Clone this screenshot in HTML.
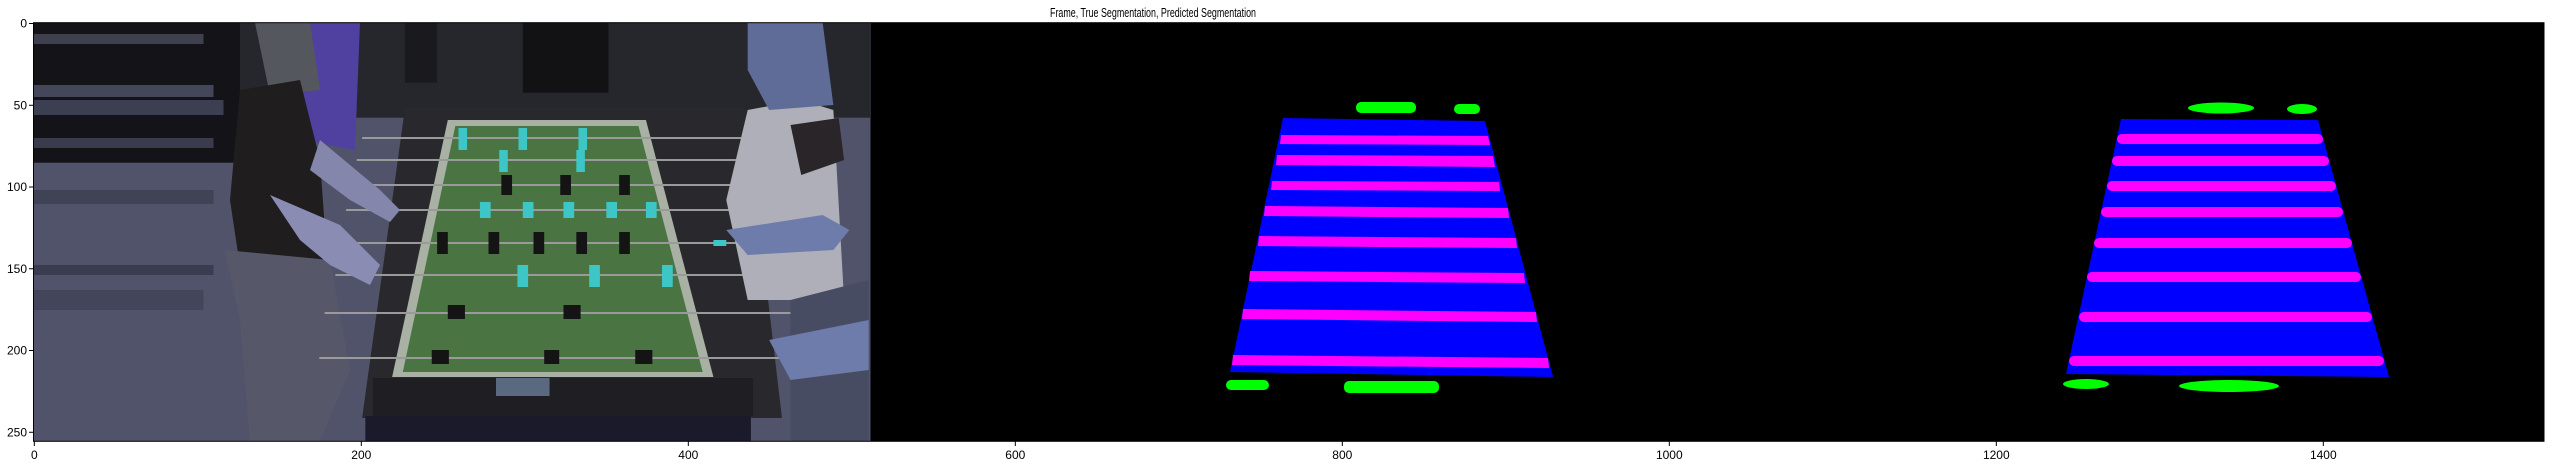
<!DOCTYPE html>
<html><head><meta charset="utf-8"><style>
html,body{margin:0;padding:0;background:#fff;}
svg{display:block;font-family:"Liberation Sans","DejaVu Sans",sans-serif;}
</style></head><body>
<svg id="fig" width="2554" height="465" viewBox="0 0 2554 465" xmlns="http://www.w3.org/2000/svg">
<text x="1050" y="17" font-size="13" textLength="206" lengthAdjust="spacingAndGlyphs" fill="#000">Frame, True Segmentation, Predicted Segmentation</text>
<g id="plot">
  <rect x="33.5" y="22.7" width="2510.5" height="418.6" fill="#000"/>
  <g>
    <rect x="33.5" y="22.7" width="837" height="418.6" fill="#50536a"/>
    <rect x="33.5" y="22.7" width="220" height="140" fill="#141418"/>
    <rect x="33.5" y="34" width="170" height="10" fill="#3e404e"/>
    <rect x="33.5" y="85" width="180" height="12" fill="#44465a"/>
    <rect x="33.5" y="100" width="190" height="15" fill="#3c3e52"/>
    <rect x="33.5" y="138" width="180" height="10" fill="#3a3c4e"/>
    <rect x="33.5" y="190" width="180" height="14" fill="#404256"/>
    <rect x="33.5" y="265" width="180" height="10" fill="#3a3c50"/>
    <rect x="33.5" y="290" width="170" height="20" fill="#43455a"/>
    <rect x="240" y="22.7" width="630" height="95" fill="#26272c"/>
    <g transform="translate(330,0) scale(1.071,1) translate(-330,0)">
      <rect x="400" y="22.7" width="30" height="60" fill="#1a1a1e"/>
      <rect x="510" y="22.7" width="80" height="70" fill="#121214"/>
    </g>
    <polygon points="300,22.7 360,22.7 355,150 305,140" fill="#5040a0"/>
    <polygon points="255,22.7 310,22.7 320,90 270,95" fill="#55575f"/>
    <polygon points="240,90 300,80 320,160 330,300 245,300 230,200" fill="#1f1d1e"/>
    <polygon points="225,250 330,260 350,370 320,441 250,441 240,320" fill="#56586a"/>
    <g transform="translate(330,0) scale(1.071,1) translate(-330,0)">
    <polygon points="400,108 718,108 752,418 360,418" fill="#29292d"/>
    <polygon points="440,120 625,120 688,377 388,377" fill="#a9b0a4"/>
    <polygon points="447,126 618,126 678,372 398,372" fill="#4a7542"/>
    <rect x="370" y="378" width="355" height="38" fill="#1f1f23"/>
    <rect x="485" y="378" width="50" height="18" fill="#5a6880"/>
    <rect x="363" y="416" width="360" height="25" fill="#1a1a2a"/>
    <g stroke="#9a9a9a" stroke-width="2">
      <line x1="360" y1="138" x2="720" y2="138"/><line x1="355" y1="160" x2="720" y2="160"/>
      <line x1="350" y1="185" x2="730" y2="185"/><line x1="345" y1="210" x2="735" y2="210"/>
      <line x1="340" y1="243" x2="740" y2="243"/><line x1="335" y1="275" x2="745" y2="275"/>
      <line x1="325" y1="313" x2="760" y2="313"/><line x1="320" y1="358" x2="770" y2="358"/>
    </g>
    <g fill="#3ec6c6">
      <rect x="450" y="128" width="8" height="22"/><rect x="506" y="128" width="8" height="22"/><rect x="562" y="128" width="8" height="22"/>
      <rect x="488" y="150" width="8" height="22"/><rect x="560" y="150" width="8" height="22"/>
      <rect x="470" y="202" width="10" height="16"/><rect x="510" y="202" width="10" height="16"/><rect x="548" y="202" width="10" height="16"/><rect x="588" y="202" width="10" height="16"/><rect x="625" y="202" width="10" height="16"/>
      <rect x="505" y="265" width="10" height="22"/><rect x="572" y="265" width="10" height="22"/><rect x="640" y="265" width="10" height="22"/>
      <rect x="688" y="240" width="12" height="6"/>
    </g>
    <g fill="#141414">
      <rect x="490" y="175" width="10" height="20"/><rect x="545" y="175" width="10" height="20"/><rect x="600" y="175" width="10" height="20"/>
      <rect x="430" y="232" width="10" height="22"/><rect x="478" y="232" width="10" height="22"/><rect x="520" y="232" width="10" height="22"/><rect x="560" y="232" width="10" height="22"/><rect x="600" y="232" width="10" height="22"/>
      <rect x="440" y="305" width="16" height="14"/><rect x="548" y="305" width="16" height="14"/>
      <rect x="425" y="350" width="16" height="14"/><rect x="530" y="350" width="14" height="14"/><rect x="615" y="350" width="16" height="14"/>
    </g>
    <polygon points="720,110 770,100 800,110 810,300 720,300 700,200" fill="#aeafb8"/>
    <polygon points="760,125 805,118 810,160 770,175" fill="#2a2528"/>
    <polygon points="720,22.7 790,22.7 800,105 740,110 720,70" fill="#5f6c98"/>
    <polygon points="700,230 790,215 815,230 800,250 720,255" fill="#6e7cac"/>
    <polygon points="760,300 833,280 833,441 760,441" fill="#484c62"/>
    <polygon points="740,340 833,320 833,370 760,380" fill="#6e7cac"/>
    </g>
    <polygon points="270,195 340,225 380,265 370,285 330,265 300,240" fill="#8a8cb4"/>
    <polygon points="320,140 380,190 400,210 390,222 350,200 310,170" fill="#8486ac"/>
  </g>
  <g>
    <polygon points="1283,118 1485,121 1553,377 1230,372" fill="#0000ff"/>
    <g fill="#ff00ff">
      <polygon points="1281,135 1488,136 1490,145 1280,144"/>
      <polygon points="1277,155 1493,156 1495,167 1276,165"/>
      <polygon points="1272,181 1499,182 1500,191 1271,190"/>
      <polygon points="1265,206 1508,208 1509,218 1264,216"/>
      <polygon points="1259,236 1516,238 1517,248 1258,246"/>
      <polygon points="1250,271 1524,273 1525,283 1249,281"/>
      <polygon points="1243,309 1536,312 1537,322 1242,319"/>
      <polygon points="1233,355 1548,358 1549,368 1232,365"/>
    </g>
    <g fill="#00ff00">
      <rect x="1356" y="102" width="60" height="11" rx="5"/><rect x="1454" y="104" width="26" height="10" rx="5"/>
      <rect x="1226" y="380" width="43" height="10" rx="5"/><rect x="1344" y="381" width="95" height="12" rx="5"/>
    </g>
  </g>
  <g>
    <polygon points="2121,119 2318,120 2389,377 2066,374" fill="#0000ff"/>
    <g fill="#ff00ff">
      <rect x="2117" y="134" width="206" height="10" rx="5"/>
      <rect x="2112" y="156" width="217" height="10" rx="5"/>
      <rect x="2107" y="181" width="229" height="10" rx="5"/>
      <rect x="2101" y="207" width="242" height="10" rx="5"/>
      <rect x="2094" y="238" width="258" height="10" rx="5"/>
      <rect x="2087" y="272" width="274" height="10" rx="5"/>
      <rect x="2079" y="312" width="293" height="10" rx="5"/>
      <rect x="2069" y="356" width="315" height="10" rx="5"/>
    </g>
    <g fill="#00ff00">
      <ellipse cx="2221" cy="108" rx="33" ry="5.5"/><ellipse cx="2302" cy="109" rx="15" ry="5"/>
      <ellipse cx="2086" cy="384" rx="23" ry="5"/><ellipse cx="2229" cy="386" rx="50" ry="6"/>
    </g>
  </g>
  <rect x="33.5" y="22.7" width="2510.5" height="418.6" fill="none" stroke="#000" stroke-width="1"/>
</g>
<g id="xaxis"></g>
<g id="yaxis"></g>
</svg>
<script>
const xTicks = [0, 200, 400, 600, 800, 1000, 1200, 1400];
const yTicks = [0, 50, 100, 150, 200, 250];
const scale = 1.635;
const x0 = 33.5, y0 = 22.7;
function xPos(v){ return x0 + (v + 0.5) * scale; }
function yPos(v){ return y0 + (v + 0.5) * scale; }
const NS = 'http://www.w3.org/2000/svg';
const xa = document.getElementById('xaxis');
const ya = document.getElementById('yaxis');
xTicks.forEach(v => {
  const x = xPos(v);
  const l = document.createElementNS(NS, 'line');
  
  
  l.setAttribute('x1', x); l.setAttribute('x2', x);
  l.setAttribute('y1', 441.3); l.setAttribute('y2', 446);
  l.setAttribute('stroke', '#000');
  xa.appendChild(l);
  const t = document.createElementNS(NS, 'text');
  
  
  t.setAttribute('x', x); t.setAttribute('y', 459);
  t.setAttribute('text-anchor', 'middle');
  t.setAttribute('font-size', '12');
  t.textContent = v;
  xa.appendChild(t);
});
yTicks.forEach(v => {
  const y = yPos(v);
  const l = document.createElementNS(NS, 'line');
  
  
  l.setAttribute('x1', 29); l.setAttribute('x2', 33.5);
  l.setAttribute('y1', y); l.setAttribute('y2', y);
  l.setAttribute('stroke', '#000');
  ya.appendChild(l);
  const t = document.createElementNS(NS, 'text');
  
  
  t.setAttribute('x', 27); t.setAttribute('y', y + 4);
  t.setAttribute('text-anchor', 'end');
  t.setAttribute('font-size', '12');
  t.textContent = v;
  ya.appendChild(t);
});
</script>
</body></html>
